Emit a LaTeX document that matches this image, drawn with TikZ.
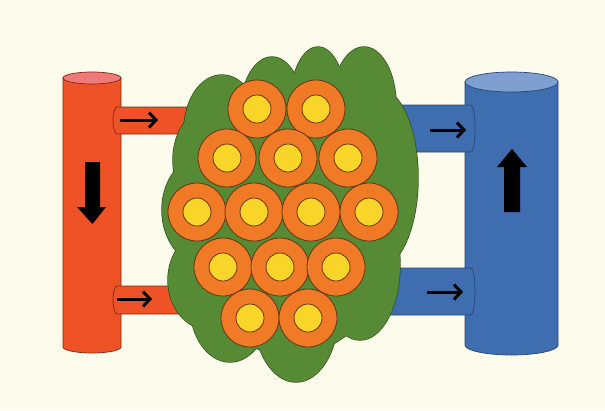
\documentclass[tikz,border=0pt]{standalone}
\usetikzlibrary{arrows.meta}
\definecolor{paper}{HTML}{FDFBEB}
\definecolor{artery}{HTML}{EE5226}
\definecolor{arterytop}{HTML}{F0797A}
\definecolor{arteryline}{HTML}{7A2A12}
\definecolor{vein}{HTML}{3E6DB0}
\definecolor{veintop}{HTML}{7E9FCF}
\definecolor{veinline}{HTML}{2A4670}
\definecolor{tissue}{HTML}{568A35}
\definecolor{tissueline}{HTML}{2F4F1C}
\definecolor{cellring}{HTML}{F07A26}
\definecolor{cellcore}{HTML}{F9D52A}
\definecolor{cellline}{HTML}{6A3410}
\tikzset{
  flowarrow/.style={line width=3pt,-{Straight Barb[length=7pt,width=15pt,line width=3pt]}},
  bigarrow/.style={fill=black},
  cellouter/.style={fill=cellring,draw=cellline,line width=0.8pt},
  cellinner/.style={fill=cellcore,draw=cellline,line width=0.8pt},
}
\newcommand{\cloudlobes}[1]{%
  \foreach \cx/\cy/\rx/\ry in {222/130/38/55, 272/115/32/58, 318/105/28/58, 364/105/32/58,
      378/178/40/90, 360/265/40/75, 296/315/42/67, 230/305/40/57, 210/280/42/50,
      205/210/43/55, 215/160/42/55, 290/215/110/140}
    {#1 (\cx,\cy) ellipse [x radius=\rx, y radius=\ry];}}
\begin{document}
\begin{tikzpicture}[x=1pt,y=-1pt]
\fill[paper] (0,0) rectangle (605,410);
\useasboundingbox (0,0) rectangle (605,410);

% artery cylinder
\filldraw[fill=artery,draw=arteryline,line width=0.7pt]
  (63,78) -- (63,347) arc[start angle=180,end angle=0,x radius=29,y radius=6] -- (121,78) -- cycle;
\filldraw[fill=arterytop,draw=arteryline,line width=0.7pt] (92,78) ellipse [x radius=29,y radius=6];
\fill[bigarrow] (85,162) -- (100,162) -- (100,207) -- (106,207) -- (92.5,224) -- (77,207) -- (85,207) -- cycle;

% vein cylinder
\filldraw[fill=vein,draw=veinline,line width=0.7pt]
  (465,82) -- (465,345) arc[start angle=180,end angle=0,x radius=46.5,y radius=10] -- (558,82) -- cycle;
\filldraw[fill=veintop,draw=veinline,line width=0.7pt] (511.5,82) ellipse [x radius=46.5,y radius=10];
\fill[bigarrow] (504,212) -- (520,212) -- (520,167) -- (527,167) -- (512,149) -- (497,167) -- (504,167) -- cycle;

% arterioles
\filldraw[fill=artery,draw=arteryline,line width=0.7pt]
  (230,107) -- (117,107) arc[start angle=270,end angle=90,x radius=4,y radius=13.5] -- (230,134);
\filldraw[fill=artery,draw=arteryline,line width=0.7pt]
  (230,286) -- (117,286) arc[start angle=270,end angle=90,x radius=4,y radius=14] -- (230,314);
% venules
\filldraw[fill=vein,draw=veinline,line width=0.7pt]
  (360,105) -- (471,105) arc[start angle=270,end angle=450,x radius=4,y radius=23.5] -- (360,152);
\filldraw[fill=vein,draw=veinline,line width=0.7pt]
  (360,268) -- (471,268) arc[start angle=270,end angle=450,x radius=4,y radius=23.5] -- (360,315);

% flow arrows
\coordinate (a1s) at (120,120); \coordinate (a1e) at (158,120);
\coordinate (a2s) at (117,299); \coordinate (a2e) at (152,299);
\coordinate (v1s) at (430,130); \coordinate (v1e) at (466,130);
\coordinate (v2s) at (427,292); \coordinate (v2e) at (463,292);
\draw[flowarrow] (a1s) -- (a1e);
\draw[flowarrow] (a2s) -- (a2e);
\draw[flowarrow] (v1s) -- (v1e);
\draw[flowarrow] (v2s) -- (v2e);

% tissue cloud: outlines first, then fills on top
\cloudlobes{\draw[tissueline,line width=1.4pt]}
\cloudlobes{\fill[tissue]}

% cells
\foreach \x/\y [count=\i] in {257/109, 316/109,
    227/158, 288/158, 348/158,
    197/212, 254/212, 311/212, 369/212,
    223/267, 280/267, 336/267,
    250/318, 308/318} {
  \node[circle,cellouter,minimum size=58pt,inner sep=0pt] (cell\i) at (\x,\y) {};
  \node[circle,cellinner,minimum size=28pt,inner sep=0pt] (core\i) at (\x,\y) {};
}
\end{tikzpicture}
\end{document}
